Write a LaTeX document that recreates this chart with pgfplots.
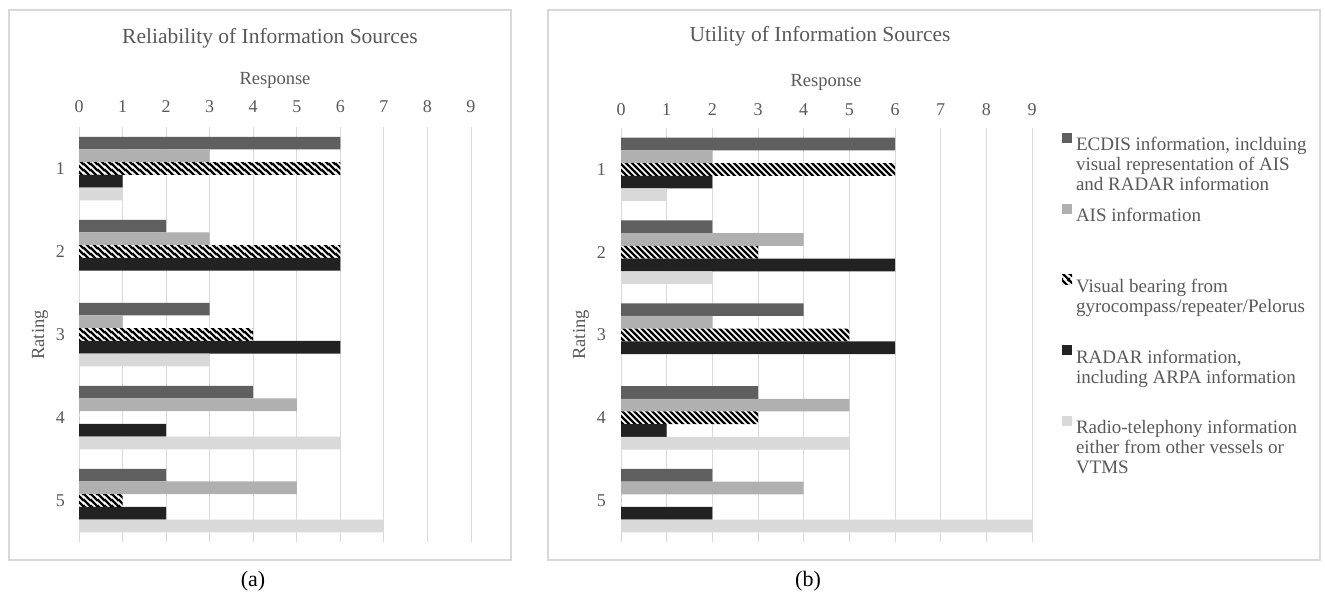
\documentclass[border=0pt]{standalone}
\usepackage{pgfplots}
\pgfplotsset{compat=1.18}
\usepackage{pgfplotstable}
\usepackage{fontspec}
\setmainfont{Liberation Serif}
\usetikzlibrary{patterns}
\definecolor{txt}{HTML}{595959}
\definecolor{gridc}{HTML}{D9D9D9}
\definecolor{cE}{HTML}{5F5F5F}
\definecolor{cA}{HTML}{B0B0B0}
\definecolor{cR}{HTML}{222222}
\definecolor{cT}{HTML}{D9D9D9}

\pgfdeclarepatternformonly{wstripes}{\pgfqpoint{0pt}{0pt}}{\pgfqpoint{6.5pt}{6.5pt}}{\pgfqpoint{6.5pt}{6.5pt}}{%
  \pgfsetlinewidth{2.4pt}%
  \pgfpathmoveto{\pgfqpoint{-1pt}{1pt}}\pgfpathlineto{\pgfqpoint{1pt}{-1pt}}%
  \pgfpathmoveto{\pgfqpoint{-1pt}{7.5pt}}\pgfpathlineto{\pgfqpoint{7.5pt}{-1pt}}%
  \pgfpathmoveto{\pgfqpoint{5.5pt}{7.5pt}}\pgfpathlineto{\pgfqpoint{7.5pt}{5.5pt}}%
  \pgfusepath{stroke}}

\pgfplotstableread{
r E A V R T
1 6 3 6 1 1
2 2 3 6 6 0
3 3 1 4 6 3
4 4 5 0 2 6
5 2 5 1 2 7
}\reliab

\pgfplotstableread{
r E A V R T
1 6 2 6 2 1
2 2 4 3 6 2
3 4 2 5 6 0
4 3 5 3 1 5
5 2 4 0 2 9
}\util

\pgfplotsset{
  panel/.style={
    xbar=0pt, bar width=12.7bp, scale only axis,
    xmin=0, xmax=9, ymin=0.5, ymax=5.5, y dir=reverse,
    xtick={0,...,9}, ytick={1,...,5},
    xticklabel pos=upper,
    xmajorgrids, grid style={gridc, line width=0.9bp},
    axis line style={draw=none}, major tick length=0pt,
    tick label style={font=\fontsize{18bp}{20bp}\selectfont, text=txt},
    /pgf/number format/assume math mode=true,
    anchor=south west,
    legend image code/.code={\fill[##1] (0bp,2bp) rectangle (10bp,12bp); \node[inner sep=0pt, outer sep=0pt, draw=none, fill=none, minimum size=0pt] at (0bp,-58bp) {};},
  },
  sE/.style={draw=none, fill=cE, bar shift=25.4bp},
  sA/.style={draw=none, fill=cA, bar shift=12.7bp},
  sV/.style={draw=none, fill=white, postaction={pattern=wstripes, pattern color=black}, bar shift=0bp},
  sR/.style={draw=none, fill=cR, bar shift=-12.7bp},
  sT/.style={draw=none, fill=cT, bar shift=-25.4bp},
}

\begin{document}
\begin{tikzpicture}
\useasboundingbox (0,0) rectangle (1325bp,596bp);
\fill[white] (0,0) rectangle (1325bp,596bp);
\draw[gridc, line width=1.2bp] (9bp,36bp) rectangle (511bp,586bp);
\draw[gridc, line width=1.2bp] (548bp,36bp) rectangle (1320bp,586bp);

\begin{axis}[panel, at={(79bp,54bp)}, width=392bp, height=415bp,
  xticklabel style={yshift=11bp}, yticklabel style={xshift=-10.5bp}]
\addplot[sE] table[x=E, y=r] {\reliab};
\addplot[sA] table[x=A, y=r] {\reliab};
\addplot[sV] table[x=V, y=r] {\reliab};
\addplot[sR] table[x=R, y=r] {\reliab};
\addplot[sT] table[x=T, y=r] {\reliab};
\end{axis}

\begin{axis}[panel, at={(621bp,54bp)}, width=411bp, height=414bp,
  xticklabel style={yshift=9bp}, yticklabel style={xshift=-11.5bp},
  legend cell align=left,
  legend style={at={(axis description cs:1.073,0.988)}, anchor=north west,
    draw=none, fill=none, inner sep=0pt, outer sep=0pt, row sep=0pt, column sep=4bp,
    font=\fontsize{19bp}{20bp}\selectfont, text=txt, nodes={inner sep=0pt}}]
\addplot[sE] table[x=E, y=r] {\util};
\addlegendentry{\parbox[t]{240bp}{ECDIS information, inclduing\\visual representation of AIS\\and RADAR information}}
\addplot[sA] table[x=A, y=r] {\util};
\addlegendentry{\parbox[t]{240bp}{AIS information}}
\addplot[sV] table[x=V, y=r] {\util};
\addlegendentry{\parbox[t]{240bp}{Visual bearing from\\gyrocompass/repeater/Pelorus}}
\addplot[sR] table[x=R, y=r] {\util};
\addlegendentry{\parbox[t]{240bp}{RADAR information,\\including ARPA information}}
\addplot[sT] table[x=T, y=r] {\util};
\addlegendentry{\parbox[t]{240bp}{Radio-telephony information\\either from other vessels or\\VTMS}}
\end{axis}

\node[text=txt, font=\fontsize{21.5bp}{24bp}\selectfont] at (270bp,558bp) {Reliability of Information Sources};
\node[text=txt, font=\fontsize{21.5bp}{24bp}\selectfont] at (820bp,560bp) {Utility of Information Sources};
\node[text=txt, font=\fontsize{18.5bp}{20bp}\selectfont] at (275bp,516bp) {Response};
\node[text=txt, font=\fontsize{18.5bp}{20bp}\selectfont] at (826bp,514bp) {Response};
\node[text=txt, font=\fontsize{18.5bp}{20bp}\selectfont, rotate=90] at (40bp,261bp) {Rating};
\node[text=txt, font=\fontsize{18.5bp}{20bp}\selectfont, rotate=90] at (581bp,261bp) {Rating};
\node[font=\fontsize{22bp}{24bp}\selectfont] at (253bp,15bp) {(a)};
\node[font=\fontsize{22bp}{24bp}\selectfont] at (808bp,15bp) {(b)};
\end{tikzpicture}
\end{document}
